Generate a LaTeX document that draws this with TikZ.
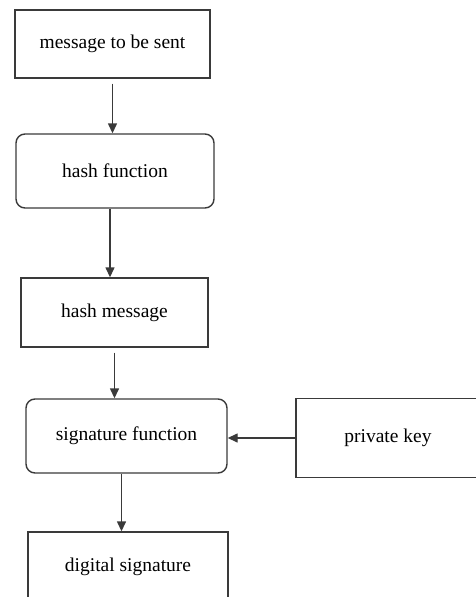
\documentclass[tikz,border=0pt]{standalone}
\usepackage{fontspec}
\setmainfont{Liberation Serif}
\usetikzlibrary{arrows.meta,positioning,calc}
\definecolor{edge}{HTML}{3A3A3A}

\tikzset{
  boxnode/.style={draw=edge,line width=1.4pt,inner sep=0pt,
    font=\fontsize{19.5}{22}\selectfont},
  roundnode/.style={boxnode,rounded corners=9pt},
  flow/.style={draw=edge,line width=1.4pt,-{Triangle[length=10pt,width=9pt]}}
}

\begin{document}
\begin{tikzpicture}[x=1pt,y=-1pt]
  \useasboundingbox (0,0) rectangle (476,597);
  % the chain of steps
  \node[boxnode,minimum width=195pt,minimum height=68pt] (msg) at (112.5,44) {message to be sent};
  \node[roundnode,minimum width=198pt,minimum height=74pt] (hashf) at (115,171) {hash function};
  \node[boxnode,minimum width=187pt,minimum height=69pt] (hashm) at (114.5,312.5) {hash message};
  \node[roundnode,minimum width=201pt,minimum height=74pt] (sigf) at (126.5,436) {signature function};
  \node[boxnode,minimum width=184pt,minimum height=79pt] (key) at (388,438) {private key};
  \node[boxnode,minimum width=200pt,minimum height=70pt] (dsig) at (128,567) {digital signature};

  \coordinate (hfout) at ($(hashf.south)+(-5,0)$);
  \coordinate (sfout) at ($(sigf.south)+(-5,0)$);
  \draw[flow,shorten <=5pt] (msg.south) -- (msg.south |- hashf.north);
  \draw[flow] (hfout) -- (hfout |- hashm.north);
  \draw[flow,shorten <=5pt] (hashm.south) -- (hashm.south |- sigf.north);
  \draw[flow] (sfout) -- (sfout |- dsig.north);
  \draw[flow] (key.west) -- (key.west -| sigf.east);
\end{tikzpicture}
\end{document}
